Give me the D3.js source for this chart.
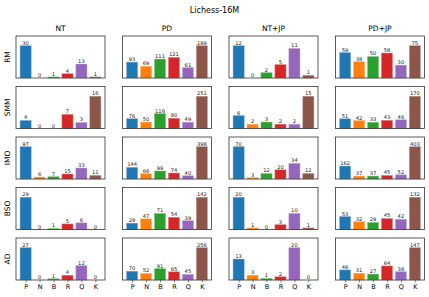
<!DOCTYPE html>
<html>
<head>
<meta charset="utf-8">
<script src="https://cdn.jsdelivr.net/npm/d3@7"></script>
<style>
body { margin: 0; background: #fff; }
text { font-family: "DejaVu Sans", sans-serif; }
</style>
</head>
<body>
<div id="chart"></div>
<script>
var pieces = ["P", "N", "B", "R", "Q", "K"];
var methods = ["RM", "SMM", "IMO", "BSO", "AD"];
var settings = ["NT", "PD", "NT+JP", "PD+JP"];
var colors = ["#1f77b4", "#ff7f0e", "#2ca02c", "#d62728", "#9467bd", "#8c564b"];

// counts[method][setting] -> values for P N B R Q K
var rmVals  = [[30, 0, 1, 4, 13, 1], [93, 69, 111, 121, 61, 189], [12, 0, 2, 5, 11, 1], [59, 38, 50, 58, 30, 75]];
var smmVals = [[4, 0, 0, 7, 3, 16], [76, 50, 116, 80, 49, 251], [6, 2, 3, 2, 2, 15], [51, 42, 33, 43, 46, 170]];
var imoVals = [[97, 6, 7, 15, 33, 11], [144, 66, 99, 74, 40, 398], [70, 3, 12, 20, 34, 12], [162, 37, 37, 45, 52, 403]];
var bsoVals = [[29, 0, 1, 5, 6, 0], [28, 47, 71, 54, 39, 142], [20, 1, 0, 3, 10, 1], [53, 32, 29, 45, 42, 132]];
var adVals  = [[27, 0, 1, 4, 12, 0], [70, 52, 91, 65, 45, 256], [13, 3, 1, 2, 20, 0], [46, 31, 27, 64, 38, 147]];
var counts = [rmVals, smmVals, imoVals, bsoVals, adVals];

var W = 429, H = 297;
var colX = [16, 122.5, 229, 335.5];
var rowY = [36, 86.5, 137, 187.5, 238];
var pw = 89, ph = 42;

var svg = d3.select("#chart").append("svg")
	.attr("width", W).attr("height", H);

svg.append("text")
	.attr("x", 214.5).attr("y", 13)
	.attr("text-anchor", "middle")
	.style("font-size", "8px")
	.text("Lichess-16M");

var x = d3.scaleLinear().domain([-0.69, 5.69]).range([0, pw]);
var bw = x(0.8) - x(0);

for (var r = 0; r < methods.length; r++) {
	for (var c = 0; c < settings.length; c++) {
		var vals = counts[r][c];
		var y = d3.scaleLinear().domain([0, d3.max(vals) * 1.3]).range([ph, 0]);
		var g = svg.append("g").attr("transform", "translate(" + colX[c] + "," + rowY[r] + ")");

		g.selectAll("rect.bar")
			.data(vals)
			.enter()
			.append("rect")
			.attr("class", "bar")
			.attr("x", function(d, i) { return x(i) - bw / 2; })
			.attr("y", function(d) { return y(d); })
			.attr("width", bw)
			.attr("height", function(d) { return ph - y(d); })
			.attr("fill", function(d, i) { return colors[i]; })
			.attr("stroke", function(d, i) { return d3.interpolateRgb(colors[i], "#fff")(0.45); })
			.attr("stroke-width", 0.5);

		g.selectAll("text.val")
			.data(vals)
			.enter()
			.append("text")
			.attr("class", "val")
			.attr("x", function(d, i) { return x(i); })
			.attr("y", function(d) { return y(d) - 1; })
			.attr("text-anchor", "middle")
			.style("font-size", "5.2px")
			.style("fill", "#222")
			.text(function(d) { return d; });

		g.append("rect")
			.attr("width", pw).attr("height", ph)
			.attr("fill", "none")
			.attr("stroke", "#333")
			.attr("stroke-width", 0.8);

		if (r == 0) {
			g.append("text")
				.attr("x", pw / 2).attr("y", -5)
				.attr("text-anchor", "middle")
				.style("font-size", "7.5px")
				.text(settings[c]);
		}
		if (c == 0) {
			g.append("text")
				.attr("transform", "translate(-6," + (ph / 2) + ") rotate(-90)")
				.attr("text-anchor", "middle")
				.style("font-size", "7.5px")
				.text(methods[r]);
		}
		if (r == methods.length - 1) {
			var ax = g.append("g")
				.attr("transform", "translate(0," + ph + ")")
				.call(d3.axisBottom(x).tickValues(d3.range(6))
					.tickFormat(function(d) { return pieces[d]; })
					.tickSize(2.5).tickPadding(1.5));
			ax.select(".domain").remove();
			ax.selectAll("line").attr("stroke", "#333").attr("stroke-width", 0.6);
			ax.selectAll("text").style("font-size", "6.5px").style("font-family", "DejaVu Sans, sans-serif");
		}
	}
}
</script>
</body>
</html>
